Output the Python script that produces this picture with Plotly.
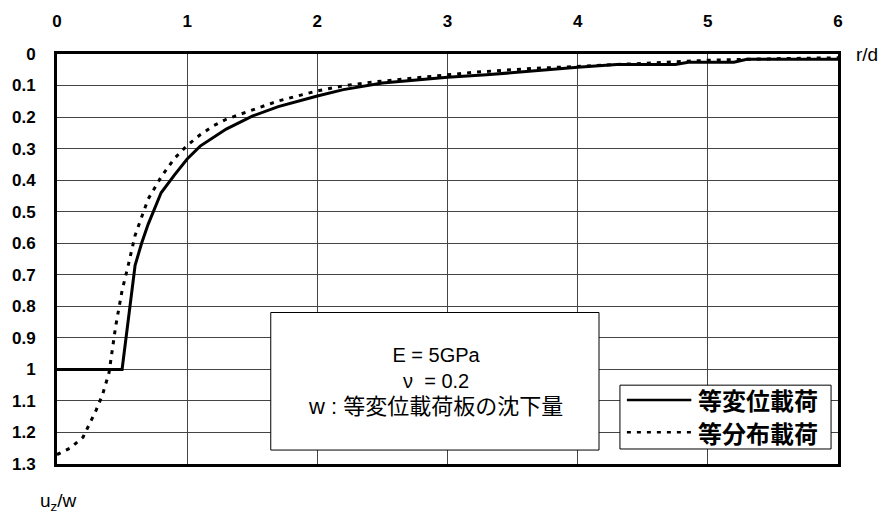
import plotly.graph_objects as go

# Settlement profiles u_z/w against r/d for two loading conditions
disp_r = [0, 0.5, 0.6, 0.65, 0.7, 0.8, 0.9, 1.0, 1.1, 1.3, 1.5, 1.7, 2.0, 2.2,
          2.5, 2.8, 3.0, 3.3, 3.6, 4.0, 4.3, 4.75, 4.85, 5.2, 5.3, 6.0]
disp_u = [1.0, 1.0, 0.67, 0.6, 0.54, 0.44, 0.385, 0.333, 0.292, 0.238, 0.197,
          0.167, 0.133, 0.113, 0.092, 0.08, 0.074, 0.066, 0.055, 0.042, 0.033,
          0.033, 0.026, 0.026, 0.017, 0.017]

dist_r = [0, 0.1, 0.2, 0.25, 0.3, 0.35, 0.4, 0.45, 0.5, 0.55, 0.6, 0.7, 0.8,
          0.9, 1.0, 1.1, 1.2, 1.3, 1.4, 1.5, 1.6, 1.7, 1.8, 1.9, 2.0, 2.2, 2.4,
          2.6, 2.8, 3.0, 3.2, 3.6, 4.0, 4.5, 5.0, 5.5, 6.0]
dist_u = [1.27, 1.25, 1.215, 1.175, 1.13, 1.08, 1.01, 0.865, 0.75, 0.665, 0.575,
          0.46, 0.39, 0.332, 0.29, 0.256, 0.228, 0.207, 0.192, 0.176, 0.163,
          0.149, 0.138, 0.127, 0.117, 0.101, 0.09, 0.082, 0.074, 0.065, 0.058,
          0.047, 0.039, 0.028, 0.02, 0.015, 0.012]

series_names = ["等変位載荷", "等分布載荷"]
x_ticks = [0, 1, 2, 3, 4, 5, 6]
y_ticks = [0, 0.1, 0.2, 0.3, 0.4, 0.5, 0.6, 0.7, 0.8, 0.9, 1.0, 1.1, 1.2, 1.3]
y_tick_text = ["0", "0.1", "0.2", "0.3", "0.4", "0.5", "0.6", "0.7", "0.8",
               "0.9", "1", "1.1", "1.2", "1.3"]

CJK = "Noto Sans CJK JP"
LAT = "Liberation Sans"

fig = go.Figure()
fig.add_trace(go.Scatter(x=disp_r, y=disp_u, mode="lines", name=series_names[0],
                         line=dict(color="black", width=3), showlegend=False))
fig.add_trace(go.Scatter(x=dist_r, y=dist_u, mode="lines", name=series_names[1],
                         line=dict(color="black", width=3, dash="4px,6px"),
                         showlegend=False))

fig.update_layout(
    width=884, height=516,
    margin=dict(l=50, r=46, t=47, b=52),
    paper_bgcolor="white", plot_bgcolor="white",
    xaxis=dict(side="top", range=[0, 6], tickvals=x_ticks,
               showgrid=True, gridcolor="#444", gridwidth=1,
               showline=True, linecolor="black", linewidth=3, mirror=True,
               zeroline=False, ticks="", ticklabelstandoff=17,
               tickfont=dict(family=LAT, size=17, color="black", weight="bold")),
    yaxis=dict(range=[1.3, 0], tickvals=y_ticks, ticktext=y_tick_text,
               showgrid=True, gridcolor="#444", gridwidth=1,
               showline=True, linecolor="black", linewidth=3, mirror=True,
               zeroline=False, ticks="", ticklabelstandoff=15,
               tickfont=dict(family=LAT, size=17, color="black", weight="bold")),
)

shapes = []
annotations = []

# Parameter box
shapes.append(dict(type="rect", xref="paper", yref="paper",
                   x0=0.2737, x1=0.694, y0=0.034, y1=0.3695,
                   line=dict(color="black", width=1), fillcolor="white", layer="above"))
box_text = ("E = 5GPa<br>ν  = 0.2<br>"
            "<span style='font-size:22px'>w : 等変位載荷板の沈下量</span>")
annotations.append(dict(text=box_text, xref="paper", yref="paper", x=0.4848, y=0.2019,
                        xanchor="center", yanchor="middle", align="center",
                        showarrow=False,
                        font=dict(family=f"{LAT}, {CJK}", size=20, color="black")))

# Legend
shapes.append(dict(type="rect", xref="paper", yref="paper",
                   x0=0.7208, x1=0.9911, y0=0.0366, y1=0.1923,
                   line=dict(color="black", width=1), fillcolor="white", layer="above"))
legend_rows = [(series_names[0], 0.1564, "solid"), (series_names[1], 0.0773, "4px,6px")]
for name, yy, dash in legend_rows:
    shapes.append(dict(type="line", xref="paper", yref="paper",
                       x0=0.7297, x1=0.8122, y0=yy, y1=yy, layer="above",
                       line=dict(color="black", width=2.5, dash=dash)))
    annotations.append(dict(text=name, xref="paper", yref="paper", x=0.8185, y=yy,
                            xanchor="left", yanchor="middle", showarrow=False,
                            font=dict(family=CJK, size=24, color="black", weight="bold")))

# Axis titles
annotations.append(dict(text="r/d", xref="paper", yref="paper", x=1.0368, y=0.9993,
                        xanchor="center", yanchor="middle", showarrow=False,
                        font=dict(family=LAT, size=19, color="black")))
annotations.append(dict(text="u<sub>z</sub>/w", xref="paper", yref="paper", x=0.002,
                        y=-0.0927, xanchor="center", yanchor="middle", showarrow=False,
                        font=dict(family=LAT, size=19, color="black")))

fig.update_layout(shapes=shapes, annotations=annotations)
fig.write_html("out.html")
